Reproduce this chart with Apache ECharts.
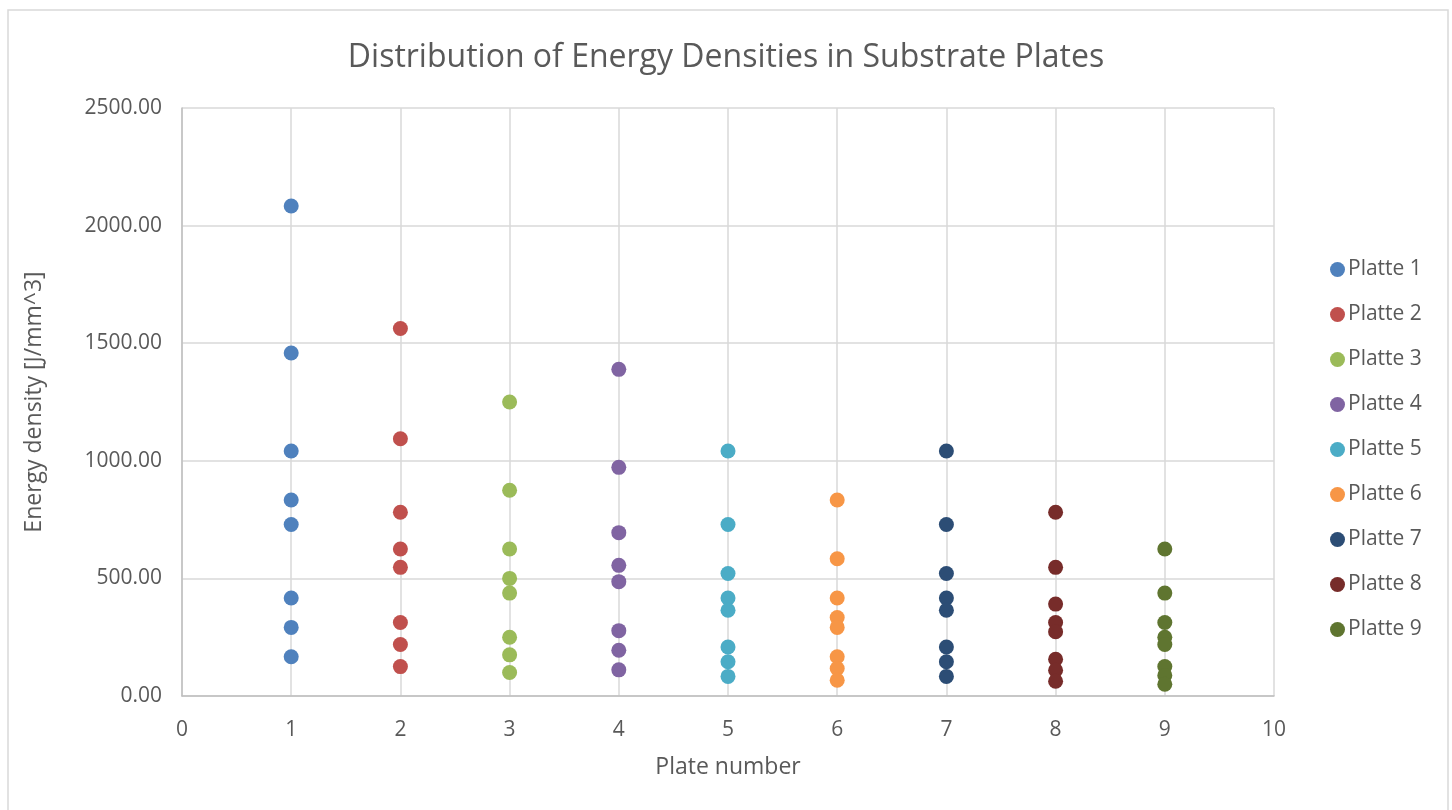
<!DOCTYPE html>
<html>
<head>
<meta charset="utf-8">
<script src="https://cdn.jsdelivr.net/npm/echarts@6/dist/echarts.min.js"></script>
<style>
  html, body { margin: 0; padding: 0; background: #fff; }
  #chart { width: 1452px; height: 810px; }
</style>
</head>
<body>
<div id="chart"></div>
<script>
// plate numbers and energy densities per plate
var seriesNames = ['Platte 1', 'Platte 2', 'Platte 3', 'Platte 4', 'Platte 5', 'Platte 6', 'Platte 7', 'Platte 8', 'Platte 9'];
var colors = ['#4F81BD', '#C0504D', '#9BBB59', '#8064A2', '#4BACC6', '#F79646', '#2C4D75', '#772C2A', '#5F7530'];

var platte1 = [2083.33, 1458.33, 1041.67, 833.33, 729.17, 416.67, 291.67, 166.67];
var platte2 = [1562.50, 1093.75, 781.25, 625.00, 546.88, 312.50, 218.75, 125.00];
var platte3 = [1250.00, 875.00, 625.00, 500.00, 437.50, 250.00, 175.00, 100.00];
var platte4 = [1388.89, 972.22, 694.44, 555.56, 486.11, 277.78, 194.44, 111.11];
var platte5 = [1041.67, 729.17, 520.83, 416.67, 364.58, 208.33, 145.83, 83.33];
var platte6 = [833.33, 583.33, 416.67, 333.33, 291.67, 166.67, 116.67, 66.67];
var platte7 = [1041.67, 729.17, 520.83, 416.67, 364.58, 208.33, 145.83, 83.33];
var platte8 = [781.25, 546.88, 390.63, 312.50, 273.44, 156.25, 109.38, 62.50];
var platte9 = [625.00, 437.50, 312.50, 250.00, 218.75, 125.00, 87.50, 50.00];

var allValues = [platte1, platte2, platte3, platte4, platte5, platte6, platte7, platte8, platte9];

var myChart = echarts.init(document.getElementById('chart'));

var font = '"Open Sans", "Liberation Sans", sans-serif';
var textColor = '#595959';

var series = [];
for (var i = 0; i < seriesNames.length; i++) {
    var pts = [];
    for (var j = 0; j < allValues[i].length; j++) {
        pts.push([i + 1, allValues[i][j]]);
    }
    series.push({
        name: seriesNames[i],
        type: 'scatter',
        symbol: 'circle',
        symbolSize: 15,
        itemStyle: { color: colors[i], opacity: 1 },
        data: pts
    });
}

var option = {
    backgroundColor: '#fff',
    animation: false,
    color: colors,
    title: {
        text: 'Distribution of Energy Densities in Substrate Plates',
        left: 'center',
        top: 37,
        textStyle: { fontFamily: font, fontSize: 32, fontWeight: 'normal', color: textColor }
    },
    legend: {
        orient: 'vertical',
        left: 1325,
        top: 253,
        itemGap: 22,
        itemWidth: 15,
        itemHeight: 15,
        icon: 'circle',
        textStyle: { fontFamily: font, fontSize: 21, lineHeight: 23, color: textColor, padding: [0, 0, 0, -2] },
        data: seriesNames
    },
    grid: { left: 182, right: 178, top: 108, bottom: 114 },
    xAxis: {
        type: 'value',
        min: 0,
        max: 10,
        interval: 1,
        name: 'Plate number',
        nameLocation: 'middle',
        nameGap: 60,
        nameTextStyle: { fontFamily: font, fontSize: 23, color: textColor },
        axisLine: { show: true, lineStyle: { color: '#bfbfbf', width: 1.5 } },
        axisTick: { show: false },
        axisLabel: { fontFamily: font, fontSize: 21, color: textColor, margin: 24 },
        splitLine: { show: true, lineStyle: { color: '#d9d9d9', width: 1.5 } }
    },
    yAxis: {
        type: 'value',
        min: 0,
        max: 2500,
        interval: 500,
        name: 'Energy density [J/mm^3]',
        nameLocation: 'middle',
        nameGap: 136,
        nameTextStyle: { fontFamily: font, fontSize: 23, color: textColor },
        axisLine: { show: true, lineStyle: { color: '#bfbfbf', width: 1.5 } },
        axisTick: { show: false },
        axisLabel: {
            fontFamily: font, fontSize: 21, color: textColor, margin: 20,
            formatter: function (v) { return v.toFixed(2); }
        },
        splitLine: { show: true, lineStyle: { color: '#d9d9d9', width: 1.5 } }
    },
    graphic: [{
        type: 'rect',
        shape: { x: 8, y: 10, width: 1440, height: 820 },
        style: { fill: null, stroke: '#d9d9d9', lineWidth: 1.5 },
        silent: true
    }],
    series: series
};

myChart.setOption(option);
</script>
</body>
</html>
